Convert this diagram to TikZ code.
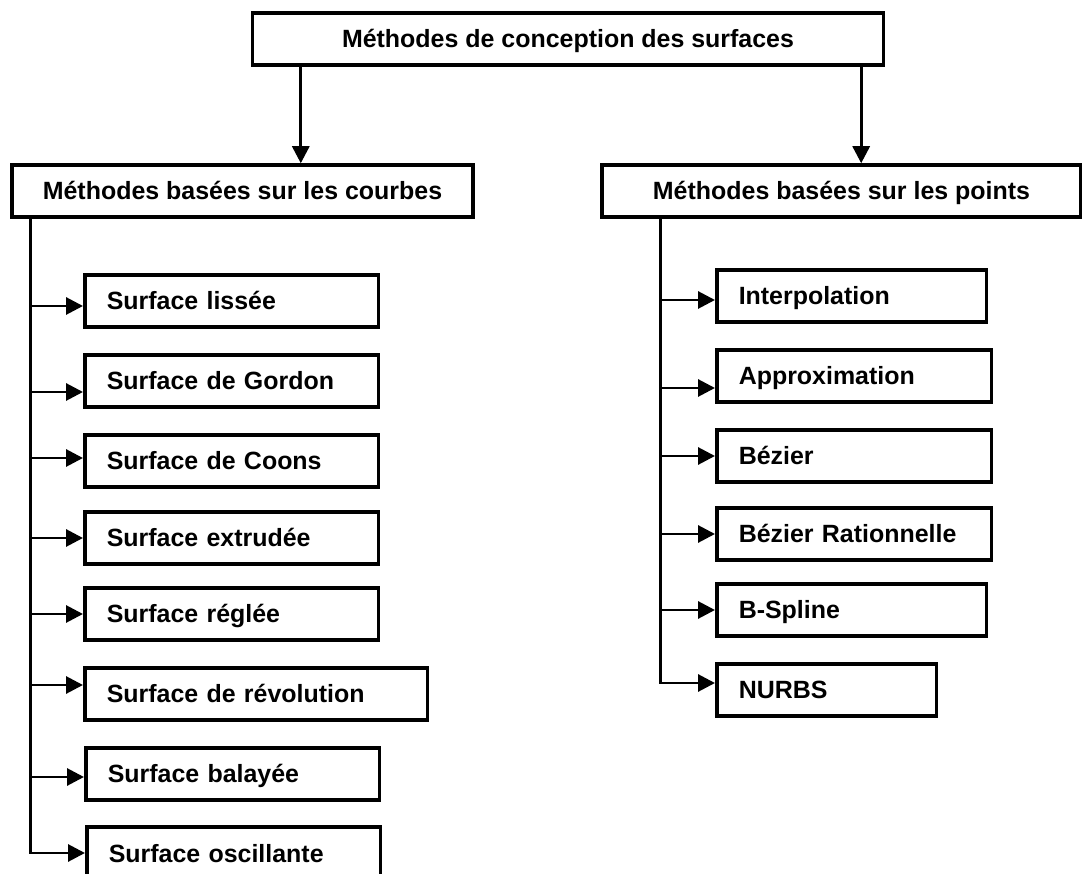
\documentclass[tikz,border=0pt]{standalone}
\usepackage{fontspec}
\setmainfont{Liberation Sans}
\usetikzlibrary{arrows.meta,positioning}

\begin{document}
\begin{tikzpicture}[
  x=0.02cm, y=-0.02cm,
  box/.style={draw, line width=2pt, font=\fontsize{14.2pt}{17pt}\selectfont\bfseries,
    text height=0.36cm, text depth=0pt, minimum height=1.04cm, inner sep=0pt},
  head/.style={box, minimum width=#1, align=center},
  leaf/.style={box, anchor=west, inner xsep=0.44cm, text width=#1, align=left},
  link/.style={line width=1.7pt, -{Triangle[length=0.34cm, width=0.34cm]}},
  spine/.style={line width=1.7pt}
]
  \useasboundingbox (0,0) rectangle (1082,874);

  % Methodes
  \node[head=12.62cm] (titre) at (568,39) {Méthodes de conception des surfaces};
  \node[head=9.22cm] (courbes) at (242.5,191) {Méthodes basées sur les courbes};
  \node[head=9.58cm] (points) at (841.5,191) {Méthodes basées sur les points};

  % Surfaces a partir de courbes
  \node[leaf=5.0cm] (s1) at (83,301) {Surface lissée};
  \node[leaf=5.0cm] (s2) at (83,381) {Surface de Gordon};
  \node[leaf=5.0cm] (s3) at (83,461) {Surface de Coons};
  \node[leaf=5.0cm] (s4) at (83,538) {Surface extrudée};
  \node[leaf=5.0cm] (s5) at (83,614) {Surface réglée};
  \node[leaf=5.98cm] (s6) at (83,694) {Surface de révolution};
  \node[leaf=5.0cm] (s7) at (84,774) {Surface balayée};
  \node[leaf=5.0cm] (s8) at (85,853) {Surface oscillante};

  % Surfaces a partir de points
  \node[leaf=4.52cm] (p1) at (715,296) {Interpolation};
  \node[leaf=4.62cm] (p2) at (715,376) {Approximation};
  \node[leaf=4.62cm] (p3) at (715,456) {Bézier};
  \node[leaf=4.62cm] (p4) at (715,534) {Bézier Rationnelle};
  \node[leaf=4.52cm] (p5) at (715,610) {B-Spline};
  \node[leaf=3.52cm] (p6) at (715,690) {NURBS};

  % Liens
  \coordinate (lhaut) at ([xshift=1cm]titre.south west);
  \coordinate (rhaut) at ([xshift=-0.48cm]titre.south east);
  \draw[link] (lhaut) -- (lhaut |- courbes.north);
  \draw[link] (rhaut) -- (rhaut |- points.north);

  \coordinate (lbas) at ([xshift=0.4cm]courbes.south west);
  \foreach \n/\dy in {s1/-0.1, s2/-0.22, s3/0.06, s4/0, s5/0, s6/0.18, s7/-0.06}
    \draw[link] ([yshift=\dy cm]lbas |- \n.west) -- ([yshift=\dy cm]\n.west);
  \draw[link] (lbas) |- (s8.west);

  \coordinate (rbas) at ([xshift=1.2cm]points.south west);
  \foreach \n/\dy in {p1/-0.08, p2/-0.24, p3/0, p4/0, p5/0}
    \draw[link] ([yshift=\dy cm]rbas |- \n.west) -- ([yshift=\dy cm]\n.west);
  \draw[link] (rbas) |- ([yshift=0.14cm]p6.west);
\end{tikzpicture}
\end{document}
